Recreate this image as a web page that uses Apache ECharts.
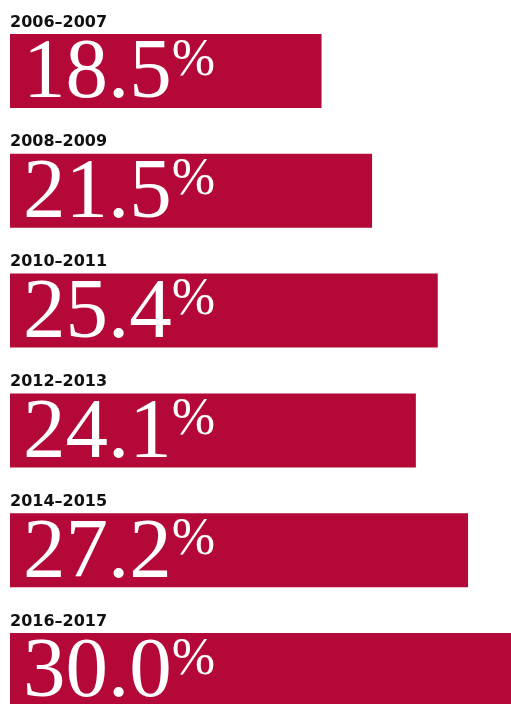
<!DOCTYPE html>
<html>
<head>
<meta charset="utf-8">
<style>
html,body{margin:0;padding:0;background:#fff;}
#c{width:511px;height:704px;}
</style>
<script src="https://cdn.jsdelivr.net/npm/echarts@6/dist/echarts.min.js"></script>
</head>
<body>
<div id="c"></div>
<script>
const periods = ['2006–2007','2008–2009','2010–2011','2012–2013','2014–2015','2016–2017'];
const shares = [18.5, 21.5, 25.4, 24.1, 27.2, 30.0];

const chart = echarts.init(document.getElementById('c'), null, {renderer:'canvas'});
chart.setOption({
  animation: false,
  grid: {left: 10, right: 0, top: 71, height: 599, containLabel: false},
  xAxis: {type: 'value', min: 0, max: 29.75, show: false},
  yAxis: {
    type: 'category', data: periods, inverse: true, boundaryGap: false,
    axisLine: {show: false}, axisTick: {show: false}, splitLine: {show: false},
    axisLabel: {
      inside: true, margin: 0, align: 'left',
      formatter: v => '{y|' + v + '}',
      rich: {y: {fontFamily: 'DejaVu Sans', fontWeight: 'bold', fontSize: 16, color: '#111', padding: [0,0,97,0]}}
    },
    z: 10
  },
  series: [{
    type: 'bar', data: shares, barWidth: 74,
    itemStyle: {color: '#b30838'},
    label: {
      show: true, position: 'insideLeft', distance: 13, offset: [0, 4],
      formatter: p => '{n|' + p.value.toFixed(1) + '}{p|%}',
      rich: {
        n: {fontFamily: 'Liberation Serif', fontSize: 85, color: '#fff', lineHeight: 86},
        p: {fontFamily: 'Liberation Serif', fontSize: 52, color: '#fff', verticalAlign: 'top', lineHeight: 52, padding: [3,0,0,0]}
      }
    }
  }]
});
</script>
</body>
</html>
